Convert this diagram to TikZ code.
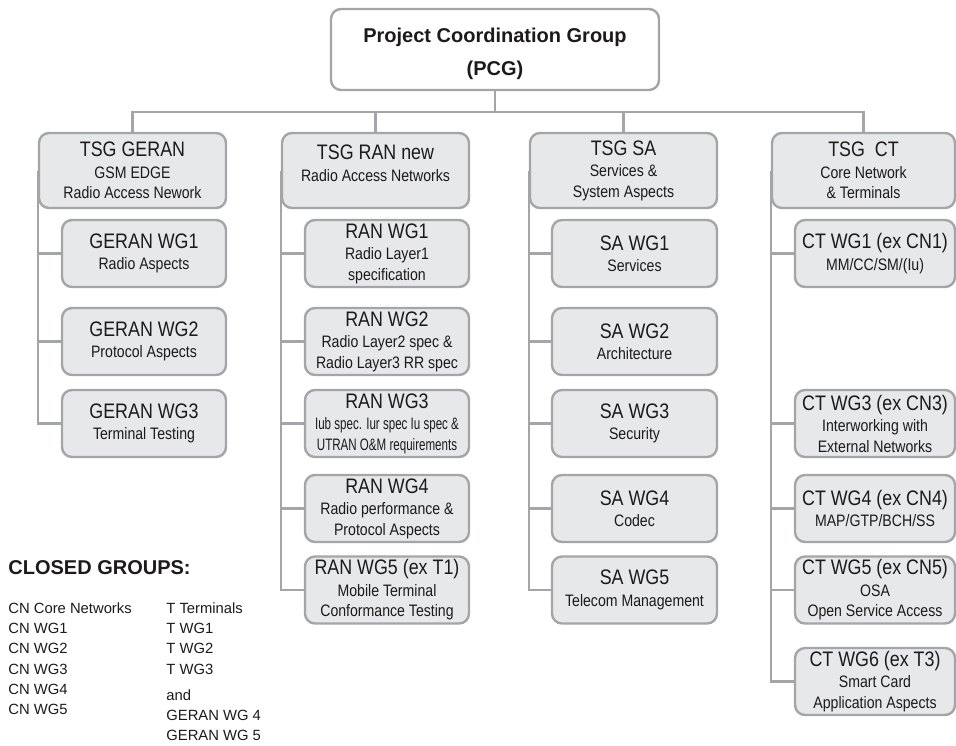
\documentclass[tikz,border=0pt]{standalone}
\usepackage{fontspec}
\setmainfont{Liberation Sans}
\newfontfamily\boxfont[FakeStretch=0.85]{Liberation Sans}
\usepackage{graphicx}
\usetikzlibrary{backgrounds}

\definecolor{boxfill}{RGB}{231,232,234}
\definecolor{linegray}{RGB}{163,165,168}
\definecolor{inkgray}{RGB}{28,26,27}

\newcommand{\wgtitle}[1]{{\fontsize{10.5}{12}\selectfont #1}\\[0.5pt]}

\begin{document}
\begin{tikzpicture}[x=0.5pt, y=-0.5pt, font=\fontsize{7.4}{10.15}\selectfont, text=inkgray,
  wgbox/.style={draw=linegray, line width=1.2pt, fill=boxfill, rounded corners=5pt, align=center,
    inner sep=0pt, minimum width=82pt, minimum height=33.5pt, font=\boxfont\fontsize{8.3}{10.25}\selectfont},
  tsgbox/.style={wgbox, minimum width=93.5pt, minimum height=37.5pt},
  link/.style={draw=linegray, line width=1.2pt},
  listtext/.style={anchor=north west, align=left, inner sep=0pt}]
  \useasboundingbox (0,0) rectangle (956,745);

  % top of the tree
  \node[wgbox, fill=white, minimum width=164pt, minimum height=40.5pt, font=\fontsize{10}{16.5}\selectfont\bfseries] (pcg) at (495,49.5) {\mbox{}\\[-5pt]Project Coordination Group\\(PCG)};
  \coordinate (bus) at ([yshift=-10.5pt]pcg.south);

  % technical specification groups
  \node[tsgbox] (geran) at (132.5,170.5) {\wgtitle{TSG GERAN}GSM EDGE\\Radio Access Nework};
  \node[tsgbox] (ran) at (375.5,170.5) {\wgtitle{TSG RAN new}Radio Access Networks\\[-3pt]\mbox{}};
  \node[tsgbox] (sa) at (623.5,170.5) {\wgtitle{TSG SA}Services \&\\System Aspects};
  \node[tsgbox, minimum width=91.5pt] (ct) at (863.5,170.5) {\wgtitle{TSG\ \ CT}Core Network\\\& Terminals};

  % GERAN working groups
  \node[wgbox] (gwg1) at (144,253.5) {\wgtitle{GERAN WG1}Radio Aspects};
  \node[wgbox] (gwg2) at (144,341.5) {\wgtitle{GERAN WG2}Protocol Aspects};
  \node[wgbox] (gwg3) at (144,423.5) {\wgtitle{GERAN WG3}Terminal Testing};

  % RAN working groups
  \node[wgbox] (rwg1) at (387,253.5) {\wgtitle{RAN WG1}Radio Layer1\\specification};
  \node[wgbox] (rwg2) at (387,341.5) {\wgtitle{RAN WG2}Radio Layer2 spec \&\\Radio Layer3 RR spec};
  \node[wgbox] (rwg3) at (387,423.5) {\wgtitle{RAN WG3}\scalebox{0.82}[1]{Iub spec. Iur spec Iu spec \&}\\\scalebox{0.82}[1]{UTRAN O\&M requirements}};
  \node[wgbox] (rwg4) at (387,508.5) {\wgtitle{RAN WG4}Radio performance \&\\Protocol Aspects};
  \node[wgbox] (rwg5) at (387,590) {\wgtitle{RAN WG5 (ex T1)}Mobile Terminal\\Conformance Testing};

  % SA working groups
  \node[wgbox, minimum width=82.5pt] (swg1) at (634.5,253.5) {\wgtitle{SA WG1}Services};
  \node[wgbox, minimum width=82.5pt] (swg2) at (634.5,341.5) {\wgtitle{SA WG2}Architecture};
  \node[wgbox, minimum width=82.5pt] (swg3) at (634.5,423.5) {\wgtitle{SA WG3}Security};
  \node[wgbox, minimum width=82.5pt] (swg4) at (634.5,508.5) {\wgtitle{SA WG4}Codec};
  \node[wgbox, minimum width=82.5pt] (swg5) at (634.5,590) {\wgtitle{SA WG5}Telecom Management};

  % CT working groups
  \node[wgbox, minimum width=80pt] (cwg1) at (875,253.5) {\wgtitle{CT WG1 (ex CN1)}MM/CC/SM/(Iu)};
  \node[wgbox, minimum width=80pt] (cwg3) at (875,423.5) {\wgtitle{CT WG3 (ex CN3)}Interworking with\\External Networks};
  \node[wgbox, minimum width=80pt] (cwg4) at (875,508.5) {\wgtitle{CT WG4 (ex CN4)}MAP/GTP/BCH/SS};
  \node[wgbox, minimum width=80pt] (cwg5) at (875,590) {\wgtitle{CT WG5 (ex CN5)}OSA\\Open Service Access};
  \node[wgbox, minimum width=80pt] (cwg6) at (875,681.5) {\wgtitle{CT WG6 (ex T3)}Smart Card\\Application Aspects};

  % closed groups
  \node[anchor=west, inner sep=0pt, font=\fontsize{10}{12}\selectfont\bfseries] (closed) at (8,568) {CLOSED GROUPS:};
  \node[listtext] (cnlist) at (8,602) {CN Core Networks\\CN WG1\\CN WG2\\CN WG3\\CN WG4\\CN WG5};
  \node[listtext] (tlist) at (166,602) {T Terminals\\T WG1\\T WG2\\T WG3\\[3pt]and\\GERAN WG 4\\GERAN WG 5};

  \begin{scope}[on background layer]
    \draw[link] (pcg.south) -- (bus);
    \draw[link] (geran.north) |- (bus) -| (ct.north);
    \draw[link] (ran.north) -- (ran.north |- bus);
    \draw[link] (sa.north) -- (sa.north |- bus);
    \draw[link] (geran.west) |- (gwg1.west);
    \draw[link] (geran.west) |- (gwg2.west);
    \draw[link] (geran.west) |- (gwg3.west);
    \draw[link] (ran.west) |- (rwg1.west);
    \draw[link] (ran.west) |- (rwg2.west);
    \draw[link] (ran.west) |- (rwg3.west);
    \draw[link] (ran.west) |- (rwg4.west);
    \draw[link] (ran.west) |- (rwg5.west);
    \draw[link] (sa.west) |- (swg1.west);
    \draw[link] (sa.west) |- (swg2.west);
    \draw[link] (sa.west) |- (swg3.west);
    \draw[link] (sa.west) |- (swg4.west);
    \draw[link] (sa.west) |- (swg5.west);
    \draw[link] (ct.west) |- (cwg1.west);
    \draw[link] (ct.west) |- (cwg3.west);
    \draw[link] (ct.west) |- (cwg4.west);
    \draw[link] (ct.west) |- (cwg5.west);
    \draw[link] (ct.west) |- (cwg6.west);
  \end{scope}
\end{tikzpicture}
\end{document}
